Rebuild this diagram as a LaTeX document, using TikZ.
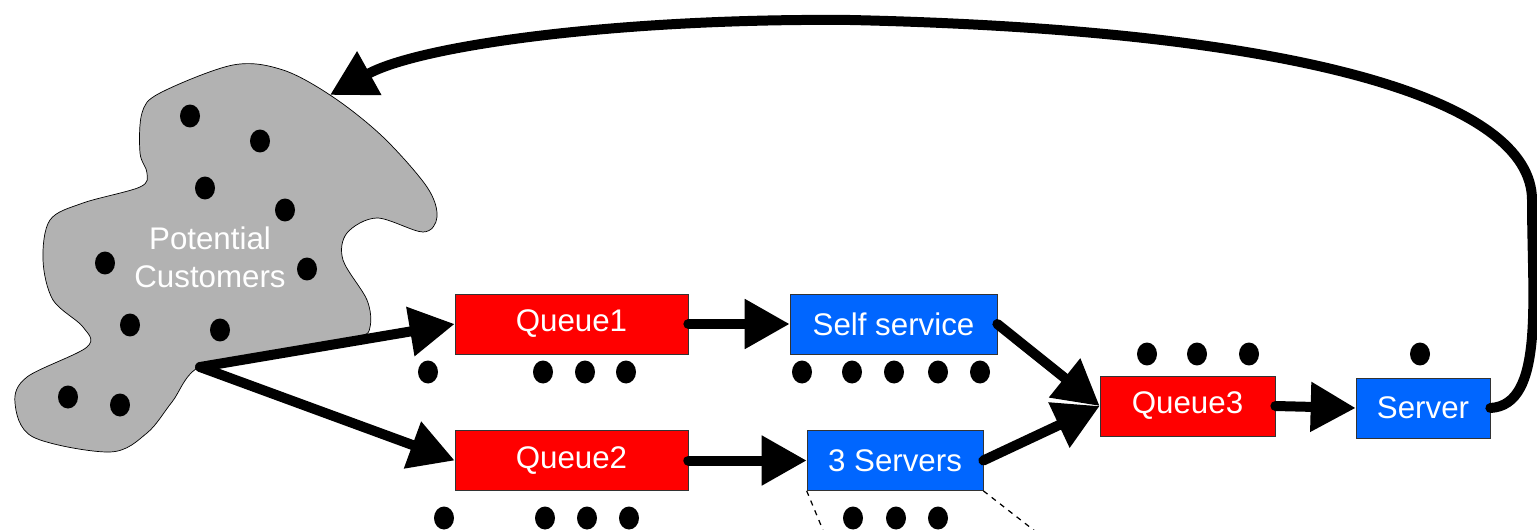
\documentclass[tikz,border=0pt]{standalone}
\usepackage{fontspec}
\setmainfont{Liberation Sans}
\usetikzlibrary{arrows.meta}
\definecolor{bleuserv}{RGB}{0,102,255}

\begin{document}
\begin{tikzpicture}[x=0.02cm, y=-0.02cm,
    boite/.style={rectangle, draw=black!80, thin, text=white, minimum height=1.2cm,
        inner sep=0pt, font=\fontsize{17.8}{21}\selectfont},
    file/.style={boite, fill=red},
    guichet/.style={boite, fill=bleuserv},
    fleche/.style={line width=0.2cm, line cap=round, -{Triangle[length=0.9cm, width=0.95cm]}},
    client/.style={fill=black}]
    % Cadre de l'image
    \useasboundingbox (0,0) rectangle (1537,530);

    % Nuage des clients potentiels
    \draw[fill=gray!60, thin] plot[smooth cycle, tension=0.55] coordinates {
        (142,113) (160,93) (233,65) (283,70) (333,97) (383,137) (427,187) (437,217)
        (423,232) (377,218) (347,233) (343,260) (367,300) (370,327) (357,337)
        (280,351) (201,366) (172,402) (147,433) (110,452) (33,437) (15,403) (27,377)
        (87,347) (83,327) (53,300) (43,260) (50,220) (83,203) (140,187) (147,173)
        (140,153)};
    \node[text=white, align=center, font=\fontsize{17.8}{21.5}\selectfont] (nuage) at (210,257) {Potential\\Customers};
    \foreach \x/\y in {190/116, 260/141, 205/188, 285/210, 105/263, 307/269,
                       130/325, 220/330, 68/397, 120/405} {
        \fill[client] (\x,\y) ellipse (0.2cm and 0.23cm);
    }
    \coordinate (depart) at (200,367);
    \coordinate (retour) at (330,95);

    % Files et guichets
    \node[file, minimum width=4.66cm] (file1) at (571.5,324) {Queue1};
    \node[guichet, minimum width=4.14cm] (self) at (893.5,324) {Self service};
    \node[file, minimum width=4.66cm] (file2) at (571.5,460.5) {Queue2};
    \node[guichet, minimum width=3.52cm] (serv3) at (895,460.5) {3 Servers};
    \node[file, minimum width=3.5cm] (file3) at (1187.5,406) {Queue3};
    \node[guichet, minimum width=2.68cm] (server) at (1423,408) {Server};

    % Clients en attente
    \foreach \x in {428,543,585,626} {
        \fill[client] (\x,372) ellipse (0.2cm and 0.23cm);
    }
    \foreach \x in {802,852,894,938,980} {
        \fill[client] (\x,372) ellipse (0.2cm and 0.23cm);
    }
    \foreach \x in {444,545,587,629} {
        \fill[client] (\x,518) ellipse (0.2cm and 0.23cm);
    }
    \foreach \x in {853,896,938} {
        \fill[client] (\x,518) ellipse (0.2cm and 0.23cm);
    }
    \foreach \x in {1147,1197,1249,1420} {
        \fill[client] (\x,354) ellipse (0.2cm and 0.23cm);
    }

    % Traits pointilles sous les 3 serveurs
    \draw[dashed, line width=0.7pt] (serv3.south west) -- (825,535);
    \draw[dashed, line width=0.7pt] (serv3.south east) -- (1040,535);

    % Fleches
    \draw[fleche] (depart) -- (file1.west);
    \draw[fleche] (depart) -- (file2.west);
    \draw[fleche] (file1.east) -- (self.west);
    \draw[fleche] (file2.east) -- (serv3.west);
    \draw[fleche] (self.east) -- (file3.west);
    \draw[fleche] (serv3.east) -- (file3.west);
    \draw[fleche] (file3.east) -- (server.west);
    \draw[fleche] (server.east) .. controls (1545,405) and (1532,300) .. (1532,200)
        .. controls (1532,100) and (1300,30) .. (850,20)
        .. controls (620,18) and (420,45) .. (retour);
\end{tikzpicture}
\end{document}
